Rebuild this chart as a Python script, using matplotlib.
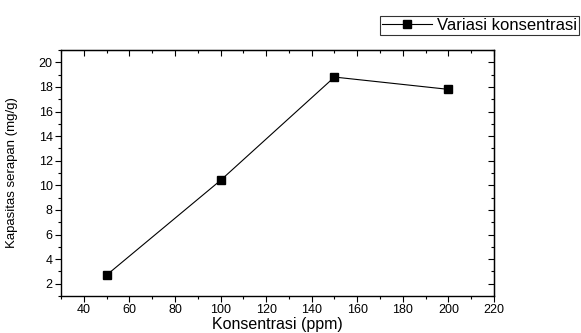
import matplotlib
matplotlib.use("Agg")
import matplotlib.pyplot as plt
from matplotlib.ticker import MultipleLocator

plt.rcParams['font.family'] = ['Liberation Sans', 'DejaVu Sans']

konsentrasi = [50, 100, 150, 200]
kapasitas = [2.7, 10.4, 18.8, 17.8]
x_ticks = [40, 60, 80, 100, 120, 140, 160, 180, 200, 220]
y_ticks = [2, 4, 6, 8, 10, 12, 14, 16, 18, 20]

fig = plt.figure(figsize=(5.81, 3.33), dpi=100)
ax = fig.add_axes([61/581, 1 - 296/333, (494-61)/581, (296-50)/333])

line, = ax.plot(konsentrasi, kapasitas, color='black', lw=0.8, marker='s',
                markersize=6, markerfacecolor='black', markeredgecolor='black',
                label='Variasi konsentrasi')

ax.set_xlim(30, 220)
ax.set_ylim(1, 21)
ax.set_xticks(x_ticks)
ax.set_yticks(y_ticks)
ax.xaxis.set_minor_locator(MultipleLocator(10))
ax.yaxis.set_minor_locator(MultipleLocator(1))

ax.tick_params(axis='both', which='major', direction='out', length=4, width=0.8,
               labelsize=9, pad=2)
ax.tick_params(axis='both', which='minor', direction='out', length=2.5, width=0.8)

# mirrored inward ticks on top/right
secx = ax.secondary_xaxis('top')
secx.set_xticks(x_ticks)
secx.xaxis.set_minor_locator(MultipleLocator(10))
secx.tick_params(which='major', direction='in', length=4, width=0.8)
secx.tick_params(which='minor', direction='in', length=2.5, width=0.8)
secx.set_xticklabels([])
secy = ax.secondary_yaxis('right')
secy.set_yticks(y_ticks)
secy.yaxis.set_minor_locator(MultipleLocator(1))
secy.tick_params(which='major', direction='in', length=4, width=0.8)
secy.tick_params(which='minor', direction='in', length=2.5, width=0.8)
secy.set_yticklabels([])

for s in ax.spines.values():
    s.set_linewidth(1.0)

ax.set_xlabel('Konsentrasi (ppm)', fontsize=11.5, labelpad=0.5)
ax.set_ylabel('Kapasitas serapan (mg/g)', fontsize=9.5)
ax.yaxis.set_label_coords(-(61-18)/433, 0.5)

leg = fig.legend(handles=[line], loc='upper right',
                 bbox_to_anchor=(579/581, 1 - 16/333), fontsize=12,
                 frameon=True, fancybox=False, edgecolor='black',
                 handlelength=3.0, handletextpad=0.3, borderpad=0.12,
                 borderaxespad=0, markerscale=0.85)
leg.get_frame().set_linewidth(0.8)

fig.savefig('out.png', dpi=100)
